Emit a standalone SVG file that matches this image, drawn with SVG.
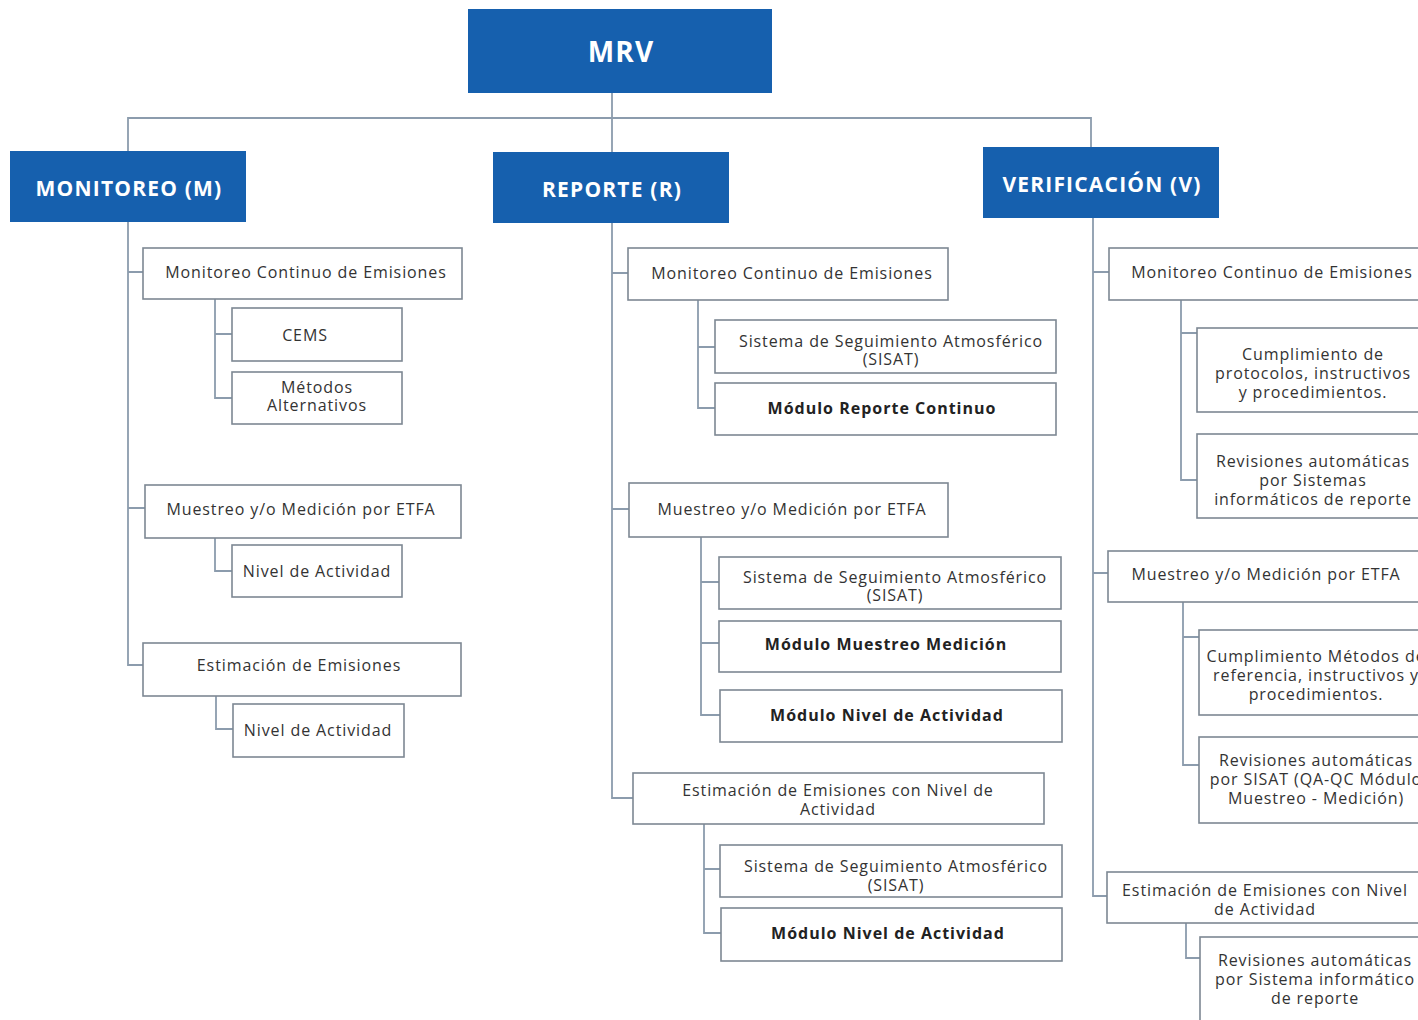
<svg xmlns="http://www.w3.org/2000/svg" width="1418" height="1020" viewBox="0 0 1418 1020">
<style>
.hd{fill:#1660ae}
.hdt{fill:#ffffff;font-family:"Open Sans","Liberation Sans",sans-serif;font-weight:bold;text-anchor:middle;dominant-baseline:central;letter-spacing:1.2px}
.bx{fill:#ffffff;stroke:#7d8893;stroke-width:1.6}
.t{fill:#333333;font-family:"Open Sans","Liberation Sans",sans-serif;font-size:16px;letter-spacing:0.9px;text-anchor:middle;dominant-baseline:central}
.b{font-weight:bold;fill:#222222;letter-spacing:1px}
.c{fill:none;stroke:#8c9cad;stroke-width:1.8}
</style>
<rect width="1418" height="1020" fill="#ffffff"/>
<g id="connectors">
<path class="c" d="M612,93 V152 M128,152 V118 H1091 V148"/>
<path class="c" d="M128,222 V665 H143 M128,272 H143 M128,508 H145"/>
<path class="c" d="M215,299 V398 H232 M215,334 H232"/>
<path class="c" d="M215,538 V571 H232"/>
<path class="c" d="M216,696 V729 H233"/>
<path class="c" d="M612,223 V798 H633 M612,273 H628 M612,509 H629"/>
<path class="c" d="M698,300 V408 H715 M698,347 H715"/>
<path class="c" d="M701,537 V715 H720 M701,582 H719 M701,643 H719"/>
<path class="c" d="M704,824 V933 H721 M704,869 H720"/>
<path class="c" d="M1093,218 V896 H1107 M1093,272 H1109 M1093,573 H1108"/>
<path class="c" d="M1181,300 V480 H1197 M1181,333 H1197"/>
<path class="c" d="M1183,602 V765 H1199 M1183,637 H1199"/>
<path class="c" d="M1186,923 V958 H1200"/>
</g>
<g id="mrv"><rect class="hd" x="468" y="9" width="304" height="84"/><text class="hdt" x="621" y="51" font-size="28">MRV</text></g>
<g id="monitoreo"><rect class="hd" x="10" y="151" width="236" height="71"/><text class="hdt" x="129" y="188" font-size="21">MONITOREO (M)</text></g>
<g id="reporte"><rect class="hd" x="493" y="152" width="236" height="71"/><text class="hdt" x="612" y="189" font-size="21">REPORTE (R)</text></g>
<g id="verificacion"><rect class="hd" x="983" y="147" width="236" height="71"/><text class="hdt" x="1102" y="184" font-size="21">VERIFICACIÓN (V)</text></g>

<g id="m1"><rect class="bx" x="143" y="248" width="319" height="51"/><text class="t" x="306" y="272">Monitoreo Continuo de Emisiones</text></g>
<g id="m1a"><rect class="bx" x="232" y="308" width="170" height="53"/><text class="t" x="305" y="335">CEMS</text></g>
<g id="m1b"><rect class="bx" x="232" y="372" width="170" height="52"/><text class="t" x="317" y="387">Métodos<tspan x="317" dy="18">Alternativos</tspan></text></g>
<g id="m2"><rect class="bx" x="145" y="485" width="316" height="53"/><text class="t" x="301" y="509">Muestreo y/o Medición por ETFA</text></g>
<g id="m2a"><rect class="bx" x="232" y="545" width="170" height="52"/><text class="t" x="317" y="571">Nivel de Actividad</text></g>
<g id="m3"><rect class="bx" x="143" y="643" width="318" height="53"/><text class="t" x="299" y="665">Estimación de Emisiones</text></g>
<g id="m3a"><rect class="bx" x="233" y="704" width="171" height="53"/><text class="t" x="318" y="730">Nivel de Actividad</text></g>

<g id="r1"><rect class="bx" x="628" y="248" width="320" height="52"/><text class="t" x="792" y="273">Monitoreo Continuo de Emisiones</text></g>
<g id="r1a"><rect class="bx" x="715" y="320" width="341" height="53"/><text class="t" x="891" y="341">Sistema de Seguimiento Atmosférico<tspan x="891" dy="18">(SISAT)</tspan></text></g>
<g id="r1b"><rect class="bx" x="715" y="383" width="341" height="52"/><text class="t b" x="882" y="408">Módulo Reporte Continuo</text></g>
<g id="r2"><rect class="bx" x="629" y="483" width="319" height="54"/><text class="t" x="792" y="509">Muestreo y/o Medición por ETFA</text></g>
<g id="r2a"><rect class="bx" x="719" y="557" width="342" height="52"/><text class="t" x="895" y="577">Sistema de Seguimiento Atmosférico<tspan x="895" dy="18">(SISAT)</tspan></text></g>
<g id="r2b"><rect class="bx" x="719" y="621" width="342" height="51"/><text class="t b" x="886" y="644">Módulo Muestreo Medición</text></g>
<g id="r2c"><rect class="bx" x="720" y="690" width="342" height="52"/><text class="t b" x="887" y="715">Módulo Nivel de Actividad</text></g>
<g id="r3"><rect class="bx" x="633" y="773" width="411" height="51"/><text class="t" x="838" y="790">Estimación de Emisiones con Nivel de<tspan x="838" dy="19">Actividad</tspan></text></g>
<g id="r3a"><rect class="bx" x="720" y="845" width="342" height="52"/><text class="t" x="896" y="866">Sistema de Seguimiento Atmosférico<tspan x="896" dy="19">(SISAT)</tspan></text></g>
<g id="r3b"><rect class="bx" x="721" y="908" width="341" height="53"/><text class="t b" x="888" y="933">Módulo Nivel de Actividad</text></g>

<g id="v1"><rect class="bx" x="1109" y="248" width="330" height="52"/><text class="t" x="1272" y="272">Monitoreo Continuo de Emisiones</text></g>
<g id="v1a"><rect class="bx" x="1197" y="328" width="240" height="84"/><text class="t" x="1313" y="354">Cumplimiento de<tspan x="1313" dy="19">protocolos, instructivos</tspan><tspan x="1313" dy="19">y procedimientos.</tspan></text></g>
<g id="v1b"><rect class="bx" x="1197" y="434" width="240" height="84"/><text class="t" x="1313" y="461">Revisiones automáticas<tspan x="1313" dy="19">por Sistemas</tspan><tspan x="1313" dy="19">informáticos de reporte</tspan></text></g>
<g id="v2"><rect class="bx" x="1108" y="551" width="330" height="51"/><text class="t" x="1266" y="574">Muestreo y/o Medición por ETFA</text></g>
<g id="v2a"><rect class="bx" x="1199" y="630" width="240" height="85"/><text class="t" x="1316" y="656">Cumplimiento Métodos de<tspan x="1316" dy="19">referencia, instructivos y</tspan><tspan x="1316" dy="19">procedimientos.</tspan></text></g>
<g id="v2b"><rect class="bx" x="1199" y="737" width="240" height="86"/><text class="t" x="1316" y="760">Revisiones automáticas<tspan x="1316" dy="19">por SISAT (QA-QC Módulo</tspan><tspan x="1316" dy="19">Muestreo - Medición)</tspan></text></g>
<g id="v3"><rect class="bx" x="1107" y="872" width="330" height="51"/><text class="t" x="1265" y="890">Estimación de Emisiones con Nivel<tspan x="1265" dy="19">de Actividad</tspan></text></g>
<g id="v3a"><rect class="bx" x="1200" y="937" width="240" height="100"/><text class="t" x="1315" y="960">Revisiones automáticas<tspan x="1315" dy="19">por Sistema informático</tspan><tspan x="1315" dy="19">de reporte</tspan></text></g>
</svg>
